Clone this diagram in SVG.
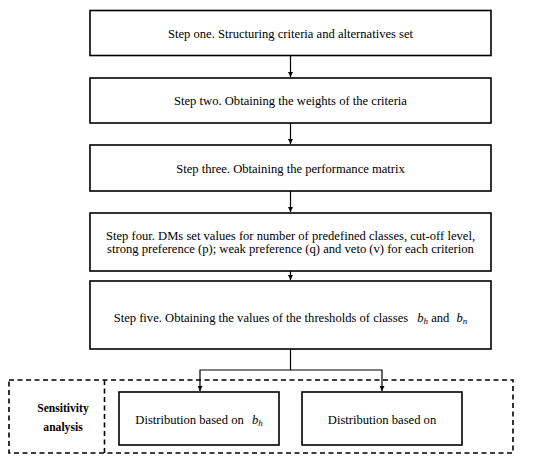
<svg xmlns="http://www.w3.org/2000/svg" width="550" height="462" viewBox="0 0 550 462">
<defs>
<style>
.box{fill:#fff;stroke:#000;stroke-width:1.6}
.t{font-family:"Liberation Serif","Times New Roman",serif;font-size:12.6px;fill:#000;text-anchor:middle}
.m{font-style:italic}
.b{font-weight:bold;font-size:11.6px}
.c{stroke:#000;stroke-width:1.2;fill:none}
.d{stroke:#000;stroke-width:1.6;fill:none;stroke-dasharray:5,3.5}
</style>
<marker id="ah" viewBox="0 0 6 6" refX="6" refY="3" markerWidth="5" markerHeight="5" orient="auto" markerUnits="userSpaceOnUse">
<path d="M0,0 L6,3 L0,6 z" fill="#000"/>
</marker>
</defs>
<rect width="550" height="462" fill="#fff"/>
<g id="connectors">
<line class="c" x1="290.5" y1="55" x2="290.5" y2="77" marker-end="url(#ah)"/>
<line class="c" x1="290.5" y1="123" x2="290.5" y2="144" marker-end="url(#ah)"/>
<line class="c" x1="290.5" y1="191" x2="290.5" y2="212" marker-end="url(#ah)"/>
<line class="c" x1="290.5" y1="271" x2="290.5" y2="280" marker-end="url(#ah)"/>
<polyline class="c" points="290.5,349 290.5,370 200,370 200,391" marker-end="url(#ah)"/>
<polyline class="c" points="290.5,370 382,370 382,391" marker-end="url(#ah)"/>
</g>
<g id="sensitivity">
<rect class="d" x="9" y="380" width="504" height="73"/>
<line class="d" x1="104.5" y1="380" x2="104.5" y2="453"/>
<text class="t b" x="63" y="412">Sensitivity</text>
<text class="t b" x="63" y="431">analysis</text>
</g>
<g id="step1">
<rect class="box" x="90" y="10.5" width="401" height="45"/>
<text class="t" x="290.5" y="37.5">Step one. Structuring criteria and alternatives set</text>
</g>
<g id="step2">
<rect class="box" x="90" y="78" width="401" height="45"/>
<text class="t" x="290.5" y="104.5">Step two. Obtaining the weights of the criteria</text>
</g>
<g id="step3">
<rect class="box" x="90" y="145" width="401" height="46"/>
<text class="t" x="290.5" y="172.5">Step three. Obtaining the performance matrix</text>
</g>
<g id="step4">
<rect class="box" x="90" y="213" width="401" height="58"/>
<text class="t" x="290.5" y="239.5">Step four. DMs set values for number of predefined classes, cut-off level,</text>
<text class="t" x="290.5" y="252.5">strong preference (p); weak preference (q) and veto (v) for each criterion</text>
</g>
<g id="step5">
<rect class="box" x="90" y="281" width="401" height="68"/>
<text class="t" x="290.5" y="322">Step five. Obtaining the values of the thresholds of classes <tspan class="m" dx="6">b</tspan><tspan class="m" font-size="9" dy="2">h</tspan><tspan dy="-2"> and </tspan><tspan class="m" dx="4">b</tspan><tspan class="m" font-size="9" dy="2">n</tspan></text>
</g>
<g id="dist1">
<rect class="box" x="119" y="392" width="160" height="53"/>
<text class="t" x="199" y="424">Distribution based on <tspan class="m" dx="5">b</tspan><tspan class="m" font-size="9" dy="2">h</tspan></text>
</g>
<g id="dist2">
<rect class="box" x="302" y="392" width="160" height="53"/>
<text class="t" x="382" y="424">Distribution based on</text>
</g>
</svg>
